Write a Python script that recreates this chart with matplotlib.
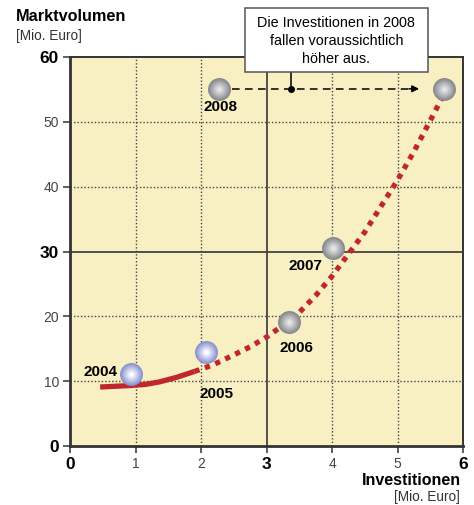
import numpy as np
import matplotlib.pyplot as plt
from matplotlib.patches import Rectangle

plt.rcParams['font.family'] = ['Liberation Sans', 'DejaVu Sans']

# Datenpunkte (Investitionen, Marktvolumen) in Mio. Euro
years = ['2004', '2005', '2006', '2007', '2008']
invest = [0.93, 2.08, 3.34, 4.02, 5.71]
volume = [11.1, 14.5, 19.1, 30.5, 55.1]
plan_2008 = [2.27, 55.1]

# Trendkurve
trend_solid_x = [0.46, 0.87, 1.15, 1.37, 1.63, 1.90]
trend_solid_y = [9.1, 9.3, 9.5, 9.9, 10.6, 11.5]
trend_dot_x = [1.90, 2.18, 2.49, 2.75, 3.00, 3.25, 3.50, 3.75, 4.00, 4.25,
               4.50, 4.75, 5.00, 5.25, 5.50, 5.69]
trend_dot_y = [11.5, 12.5, 14.0, 15.3, 16.8, 18.6, 20.6, 23.2, 26.2, 29.6,
               33.0, 37.0, 41.0, 45.4, 50.2, 53.9]

xticks = [0, 1, 2, 3, 4, 5, 6]
yticks = [0, 10, 20, 30, 40, 50, 60]
label_pos = [(0.47, 11.4), (2.24, 8.0), (3.45, 15.1), (3.6, 27.8), (2.3, 52.3)]

fig = plt.figure(figsize=(4.74, 5.05), dpi=100)
ax = fig.add_axes([0.1477, 0.1168, 0.8291, 0.7703])
ax.set_facecolor('#f8efc3')
ax.set_xlim(0, 6)
ax.set_ylim(0, 60)

for x in xticks[1:-1]:
    if x == 3:
        ax.axvline(x, color='#444444', lw=1.3, zorder=1)
    else:
        ax.axvline(x, color='#444444', lw=1.0, ls=(0, (1, 1.5)), zorder=1)
for y in yticks[1:-1]:
    if y == 30:
        ax.axhline(y, color='#444444', lw=1.3, zorder=1)
    else:
        ax.axhline(y, color='#444444', lw=1.0, ls=(0, (1, 1.5)), zorder=1)

for s in ax.spines.values():
    s.set_color('#333333')
    s.set_linewidth(1.4)
ax.spines['left'].set_linewidth(2)
ax.spines['bottom'].set_linewidth(2)

ax.set_xticks(xticks)
ax.set_yticks(yticks)
ax.set_xticklabels([str(v) for v in xticks])
ax.set_yticklabels([str(v) for v in yticks])
ax.tick_params(length=5, width=1.2, color='#444444', pad=3)
for lab, v in zip(ax.get_xticklabels(), xticks):
    if v in (0, 3, 6):
        lab.set_fontsize(12.5)
        lab.set_fontweight('bold')
        lab.set_color('black')
    else:
        lab.set_fontsize(10)
        lab.set_color('#444444')
for lab, v in zip(ax.get_yticklabels(), yticks):
    if v in (0, 30, 60):
        lab.set_fontsize(12.5)
        lab.set_fontweight('bold')
        lab.set_color('black')
    else:
        lab.set_fontsize(10)
        lab.set_color('#444444')

# Trendkurve
ax.plot(trend_solid_x, trend_solid_y, color='#c0272d', lw=3.8,
        solid_capstyle='butt', zorder=3)
ax.plot(trend_dot_x, trend_dot_y, color='#c0272d', lw=3.8,
        ls=(0, (1, 1.1)), dash_capstyle='butt', zorder=3)

# Pfeil 2008
ax.plot([2.47, 5.22], [55.1, 55.1], color='black', lw=1.1, ls=(0, (5, 3.5)), zorder=3)
ax.annotate('', xy=(5.33, 55.1), xytext=(5.18, 55.1),
            arrowprops=dict(arrowstyle='-|>', color='black', lw=1.1,
                            mutation_scale=10, shrinkA=0, shrinkB=0), zorder=3)
ax.plot([3.37], [55.1], 'o', color='black', ms=4, zorder=4)
ax.plot([3.37, 3.37], [55.1, 57.8], color='black', lw=1.1, zorder=3, clip_on=False)


def sphere(x, y, outer, inner):
    c1 = np.array(plt.matplotlib.colors.to_rgb(outer))
    c2 = np.array(plt.matplotlib.colors.to_rgb(inner))
    n = 12
    for i in range(n):
        t = i / (n - 1)
        ax.plot([x], [y], 'o', ms=16.5 * (1 - 0.85 * t),
                color=c1 * (1 - t) + c2 * t, mec='none', zorder=5 + i * 0.01)


for i, (x, y) in enumerate(zip(invest, volume)):
    if i < 2:
        sphere(x, y, '#8791d0', '#ffffff')
    else:
        sphere(x, y, '#84878c', '#e6e6e6')
sphere(plan_2008[0], plan_2008[1], '#84878c', '#e6e6e6')

for yr, (lx, ly) in zip(years, label_pos):
    ax.text(lx, ly, yr, fontsize=11, fontweight='bold', ha='center',
            va='center', zorder=6)

# Achsentitel
fig.text(0.034, 0.967, 'Marktvolumen', fontsize=11.7, fontweight='bold', va='center')
fig.text(0.034, 0.929, '[Mio. Euro]', fontsize=9.8, color='#333333', va='center')
fig.text(0.973, 0.049, 'Investitionen', fontsize=11.5, fontweight='bold',
         va='center', ha='right')
fig.text(0.971, 0.016, '[Mio. Euro]', fontsize=9.8, color='#333333',
         va='center', ha='right')

# Hinweisbox
fig.patches.append(Rectangle((0.517, 0.857), 0.386, 0.127, transform=fig.transFigure,
                             facecolor='white', edgecolor='#555555', lw=1.1, zorder=10))
fig.text(0.7095, 0.919, 'Die Investitionen in 2008\nfallen voraussichtlich\nhöher aus.',
         fontsize=10.4, ha='center', va='center', linespacing=1.38, zorder=11)

fig.savefig('out.png', dpi=100)
